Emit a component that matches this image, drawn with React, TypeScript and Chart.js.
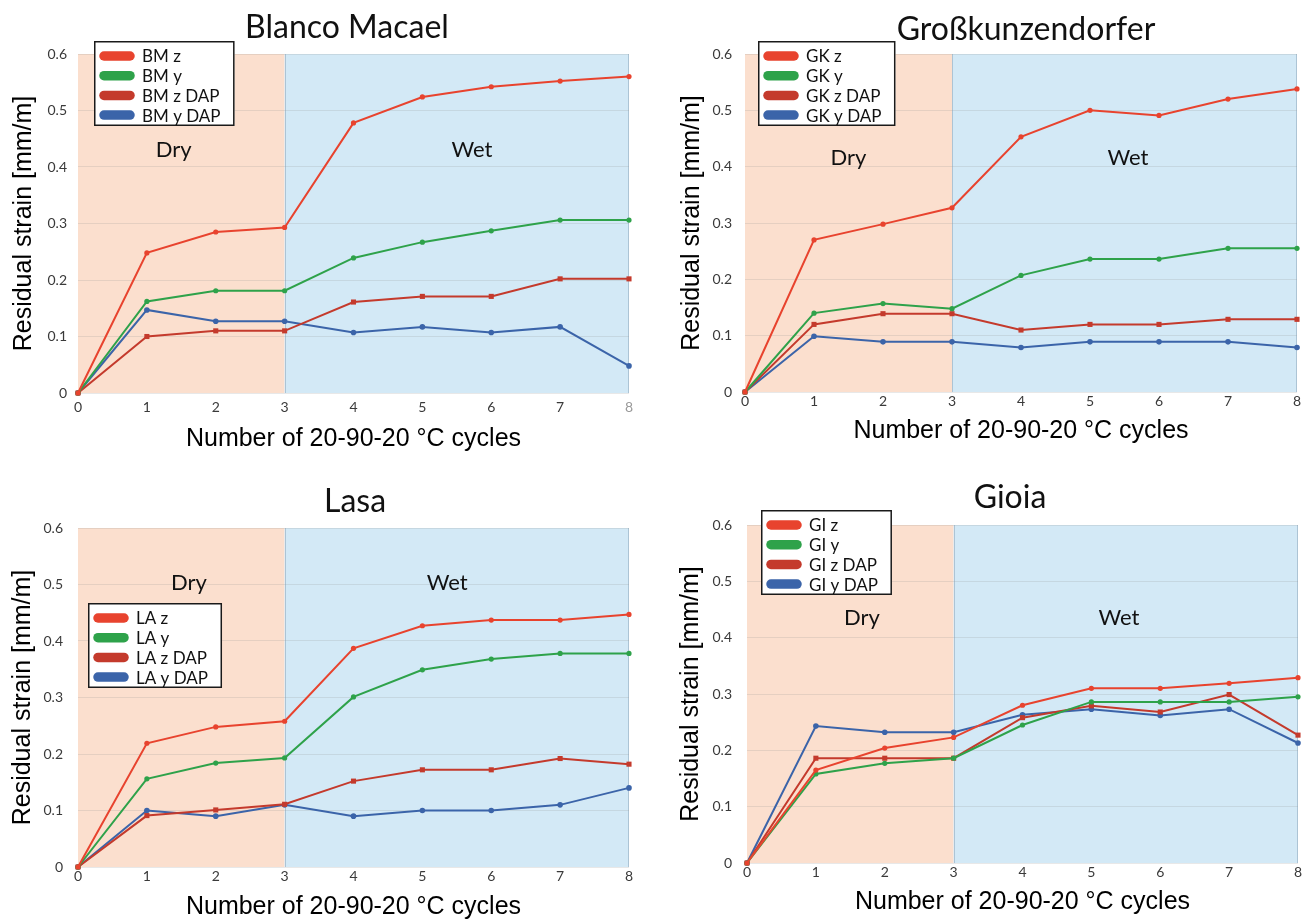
import React, { useEffect, useRef } from 'react';
import { Chart, registerables } from 'chart.js';

Chart.register(...registerables);

// Shared axes
const cycles = ['0', '1', '2', '3', '4', '5', '6', '7', '8'];
const strainTicks = [0, 0.1, 0.2, 0.3, 0.4, 0.5, 0.6];
const dryUntilCycle = 3;
const xAxisTitle = 'Number of 20-90-20 °C cycles';
const yAxisTitle = 'Residual strain [mm/m]';

// Blanco Macael
const bmZ = [0, 0.248, 0.285, 0.293, 0.478, 0.524, 0.542, 0.552, 0.56];
const bmY = [0, 0.162, 0.181, 0.181, 0.239, 0.267, 0.287, 0.306, 0.306];
const bmZDap = [0, 0.1, 0.11, 0.11, 0.161, 0.171, 0.171, 0.202, 0.202];
const bmYDap = [0, 0.147, 0.127, 0.127, 0.107, 0.117, 0.107, 0.117, 0.048];

// Großkunzendorfer
const gkZ = [0, 0.27, 0.298, 0.327, 0.453, 0.5, 0.491, 0.52, 0.538];
const gkY = [0, 0.14, 0.157, 0.148, 0.207, 0.236, 0.236, 0.255, 0.255];
const gkZDap = [0, 0.12, 0.139, 0.139, 0.11, 0.12, 0.12, 0.129, 0.129];
const gkYDap = [0, 0.099, 0.089, 0.089, 0.079, 0.089, 0.089, 0.089, 0.079];

// Lasa
const laZ = [0, 0.219, 0.248, 0.258, 0.387, 0.427, 0.437, 0.437, 0.447];
const laY = [0, 0.156, 0.184, 0.193, 0.301, 0.349, 0.368, 0.378, 0.378];
const laZDap = [0, 0.091, 0.101, 0.111, 0.152, 0.172, 0.172, 0.192, 0.182];
const laYDap = [0, 0.1, 0.09, 0.11, 0.09, 0.1, 0.1, 0.11, 0.14];

// Gioia
const giZ = [0, 0.165, 0.204, 0.223, 0.28, 0.31, 0.31, 0.319, 0.329];
const giY = [0, 0.158, 0.177, 0.186, 0.245, 0.286, 0.286, 0.286, 0.295];
const giZDap = [0, 0.186, 0.186, 0.186, 0.258, 0.279, 0.268, 0.299, 0.227];
const giYDap = [0, 0.243, 0.232, 0.232, 0.263, 0.273, 0.262, 0.273, 0.213];

const seriesStyles = [
  { suffix: 'z', color: '#E8432E', pointStyle: 'circle', radius: 2.6 },
  { suffix: 'y', color: '#2EA24A', pointStyle: 'circle', radius: 2.6 },
  { suffix: 'z DAP', color: '#C43A2C', pointStyle: 'rect', radius: 3.6 },
  { suffix: 'y DAP', color: '#3B64A9', pointStyle: 'circle', radius: 2.8 },
];

const DRY_FILL = '#FBDFCE';
const WET_FILL = '#D3E9F6';
const GRID = 'rgba(150, 150, 150, 0.22)';
const TICK_COLOR = '#3a3a3a';
const TICK_FONT = { family: 'Lato', size: 14 };
const AXIS_TITLE_FONT = { family: 'Liberation Sans', size: 25 };

type Panel = {
  title: string;
  prefix: string;
  series: number[][];
  box: { left: number; top: number; width: number; height: number };
  area: { left: number; top: number; right: number; bottom: number };
  titleX: number;
  titleBaseline: number;
  yTitleX: number;
  xTitleY: number;
  yTickPad: number;
  xTickPad: number;
  legend: { left: number; top: number };
  dry: { x: number; y: number };
  wet: { x: number; y: number };
  mutedLastTick?: boolean;
};

// Page-space layout of the four panels
const panels: Panel[] = [
  {
    title: 'Blanco Macael', prefix: 'BM', series: [bmZ, bmY, bmZDap, bmYDap],
    box: { left: 0, top: 0, width: 654, height: 460 },
    area: { left: 78, top: 54, right: 629, bottom: 393 },
    titleX: 347, titleBaseline: 38, yTitleX: 24, xTitleY: 439,
    yTickPad: 11, xTickPad: 6, legend: { left: 94, top: 41 },
    dry: { x: 1.39, y: 0.43 }, wet: { x: 5.72, y: 0.43 }, mutedLastTick: true,
  },
  {
    title: 'Großkunzendorfer', prefix: 'GK', series: [gkZ, gkY, gkZDap, gkYDap],
    box: { left: 654, top: 0, width: 655, height: 460 },
    area: { left: 745, top: 54, right: 1297, bottom: 392 },
    titleX: 1026, titleBaseline: 40, yTitleX: 692, xTitleY: 431,
    yTickPad: 13, xTickPad: 1, legend: { left: 758, top: 41 },
    dry: { x: 1.5, y: 0.416 }, wet: { x: 5.55, y: 0.416 },
  },
  {
    title: 'Lasa', prefix: 'LA', series: [laZ, laY, laZDap, laYDap],
    box: { left: 0, top: 460, width: 654, height: 461 },
    area: { left: 78, top: 528, right: 629, bottom: 867 },
    titleX: 355, titleBaseline: 512, yTitleX: 23, xTitleY: 907,
    yTickPad: 15, xTickPad: 1.5, legend: { left: 88, top: 603 },
    dry: { x: 1.61, y: 0.503 }, wet: { x: 5.36, y: 0.503 },
  },
  {
    title: 'Gioia', prefix: 'GI', series: [giZ, giY, giZDap, giYDap],
    box: { left: 654, top: 460, width: 655, height: 461 },
    area: { left: 747, top: 525, right: 1298, bottom: 863 },
    titleX: 1010, titleBaseline: 508, yTitleX: 691, xTitleY: 902,
    yTickPad: 15, xTickPad: 1.5, legend: { left: 761, top: 510 },
    dry: { x: 1.67, y: 0.435 }, wet: { x: 5.4, y: 0.435 },
  },
];

// Background bands, zone labels, title and the framed legend
const panelDecor = {
  id: 'panelDecor',
  beforeDraw(chart: any) {
    const { ctx, chartArea: a, scales } = chart;
    const x = scales.x;
    ctx.save();
    ctx.fillStyle = '#ffffff';
    ctx.fillRect(0, 0, chart.width, chart.height);
    const split = x.getPixelForValue(dryUntilCycle);
    ctx.fillStyle = DRY_FILL;
    ctx.fillRect(a.left, a.top, split - a.left, a.bottom - a.top);
    ctx.fillStyle = WET_FILL;
    ctx.fillRect(split, a.top, a.right - split, a.bottom - a.top);
    ctx.strokeStyle = 'rgba(140, 165, 185, 0.55)';
    ctx.lineWidth = 1;
    ctx.beginPath();
    ctx.moveTo(Math.round(split) + 0.5, a.top);
    ctx.lineTo(Math.round(split) + 0.5, a.bottom);
    ctx.moveTo(Math.round(a.right) - 0.5, a.top);
    ctx.lineTo(Math.round(a.right) - 0.5, a.bottom);
    ctx.stroke();
    ctx.restore();
  },
  beforeDatasetsDraw(chart: any, _args: any, opts: any) {
    const { ctx, scales } = chart;
    ctx.save();
    ctx.fillStyle = '#111';
    ctx.font = '22px Lato';
    ctx.textAlign = 'center';
    ctx.textBaseline = 'middle';
    ctx.fillText('Dry', scales.x.getPixelForValue(opts.dry.x), scales.y.getPixelForValue(opts.dry.y));
    ctx.fillText('Wet', scales.x.getPixelForValue(opts.wet.x), scales.y.getPixelForValue(opts.wet.y));
    ctx.restore();
  },
  afterDraw(chart: any, _args: any, opts: any) {
    const { ctx } = chart;
    ctx.save();
    // Title
    ctx.fillStyle = '#111';
    ctx.font = '32px Lato';
    ctx.textAlign = 'center';
    ctx.textBaseline = 'alphabetic';
    ctx.fillText(opts.title, opts.titleX, opts.titleBaseline);

    // Legend
    ctx.font = '17px Lato';
    const items = chart.data.datasets;
    let maxW = 0;
    items.forEach((d: any) => { maxW = Math.max(maxW, ctx.measureText(d.label).width); });
    const lx = opts.legend.left;
    const ly = opts.legend.top;
    const w = 48 + maxW + 14;
    const h = 85;
    ctx.fillStyle = '#ffffff';
    ctx.fillRect(lx, ly, w, h);
    ctx.strokeStyle = '#1a1a1a';
    ctx.lineWidth = 1.5;
    ctx.strokeRect(lx + 0.75, ly + 0.75, w - 1.5, h - 1.5);
    ctx.textAlign = 'left';
    ctx.textBaseline = 'middle';
    items.forEach((d: any, i: number) => {
      const cy = ly + 15 + i * 19.7;
      ctx.strokeStyle = d.borderColor;
      ctx.lineWidth = 9.5;
      ctx.lineCap = 'round';
      ctx.beginPath();
      ctx.moveTo(lx + 10, cy);
      ctx.lineTo(lx + 36, cy);
      ctx.stroke();
      ctx.fillStyle = '#111';
      ctx.fillText(d.label, lx + 48, cy + 1);
    });
    ctx.restore();
  },
};

function StrainPanel({ p }: { p: Panel }) {
  const ref = useRef<HTMLCanvasElement | null>(null);

  useEffect(() => {
    const canvas = ref.current;
    if (!canvas) return;
    const { box, area } = p;
    const yAxisW = area.left - box.left;
    const xAxisH = box.top + box.height - area.bottom;
    const yTitlePad = p.yTitleX - box.left - (AXIS_TITLE_FONT.size * 1.2) / 2;
    const xTitlePad = box.top + box.height - p.xTitleY - (AXIS_TITLE_FONT.size * 1.2) / 2;

    const chart = new Chart(canvas, {
      type: 'line',
      data: {
        labels: cycles,
        datasets: p.series.map((values, i) => {
          const s = seriesStyles[i];
          return {
            label: `${p.prefix} ${s.suffix}`,
            data: values,
            borderColor: s.color,
            backgroundColor: s.color,
            pointBackgroundColor: s.color,
            pointBorderColor: s.color,
            pointBorderWidth: 0,
            pointStyle: s.pointStyle as any,
            pointRadius: s.radius,
            borderWidth: 2,
            tension: 0,
            clip: false as any,
          };
        }),
      },
      options: {
        animation: false,
        responsive: false,
        maintainAspectRatio: false,
        events: [],
        layout: {
          padding: {
            left: 0,
            top: area.top - box.top,
            right: box.left + box.width - area.right,
            bottom: 0,
          },
        },
        plugins: {
          legend: { display: false },
          title: { display: false },
          tooltip: { enabled: false },
          panelDecor: {
            title: p.title,
            titleX: p.titleX - box.left,
            titleBaseline: p.titleBaseline - box.top,
            legend: { left: p.legend.left - box.left, top: p.legend.top - box.top },
            dry: p.dry,
            wet: p.wet,
          },
        } as any,
        scales: {
          x: {
            grid: { display: false, drawTicks: false },
            border: { display: false },
            ticks: {
              font: TICK_FONT,
              padding: p.xTickPad,
              maxRotation: 0,
              autoSkip: false,
              color: (c: any) => (p.mutedLastTick && c.index === cycles.length - 1 ? '#9a9a9a' : TICK_COLOR),
            },
            title: {
              display: true,
              text: xAxisTitle,
              font: AXIS_TITLE_FONT,
              color: '#000',
              padding: { top: 0, bottom: xTitlePad },
            },
            afterFit(s: any) { s.height = xAxisH; },
          },
          y: {
            min: 0,
            max: 0.6,
            afterBuildTicks(s: any) { s.ticks = strainTicks.map((v) => ({ value: v })); },
            grid: { color: GRID, drawTicks: false, lineWidth: 1 },
            border: { display: false },
            ticks: { font: TICK_FONT, color: TICK_COLOR, padding: p.yTickPad },
            title: {
              display: true,
              text: yAxisTitle,
              font: AXIS_TITLE_FONT,
              color: '#000',
              padding: { top: yTitlePad, bottom: 0 },
            },
            afterFit(s: any) { s.width = yAxisW; },
          },
        },
      },
      plugins: [panelDecor as any],
    });

    let alive = true;
    const fonts = (document as any).fonts;
    if (fonts && fonts.load) {
      Promise.all([
        fonts.load('17px Lato'),
        fonts.load('25px "Liberation Sans"'),
      ]).then(() => { if (alive) chart.update(); }).catch(() => {});
    }
    return () => { alive = false; chart.destroy(); };
  }, [p]);

  return (
    <canvas
      ref={ref}
      width={p.box.width}
      height={p.box.height}
      style={{
        position: 'absolute',
        left: p.box.left,
        top: p.box.top,
        width: p.box.width,
        height: p.box.height,
      }}
    />
  );
}

export default function App() {
  return (
    <div
      style={{
        position: 'fixed',
        left: 0,
        top: 0,
        width: 1309,
        height: 921,
        background: '#ffffff',
        overflow: 'hidden',
      }}
    >
      {panels.map((p) => (
        <StrainPanel key={p.prefix} p={p} />
      ))}
    </div>
  );
}
